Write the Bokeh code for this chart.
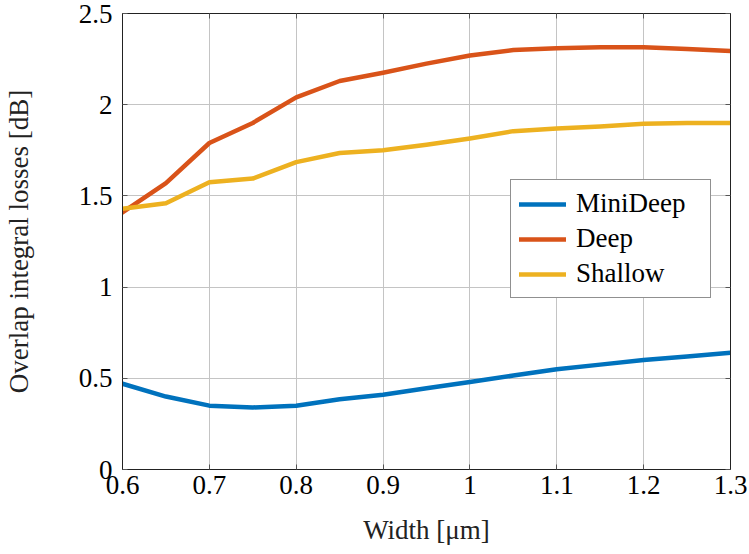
from bokeh.plotting import figure
from bokeh.models import Range1d, FixedTicker, LinearAxis
from bokeh.embed import file_html
from bokeh.resources import INLINE

width_um = [0.6, 0.65, 0.7, 0.75, 0.8, 0.85, 0.9, 0.95, 1.0, 1.05, 1.1, 1.15, 1.2, 1.25, 1.3]
minideep = [0.47, 0.40, 0.35, 0.34, 0.35, 0.385, 0.41, 0.445, 0.48, 0.515, 0.55, 0.575, 0.60, 0.62, 0.64]
deep = [1.41, 1.57, 1.79, 1.90, 2.04, 2.13, 2.175, 2.225, 2.27, 2.30, 2.31, 2.315, 2.315, 2.305, 2.295]
shallow = [1.43, 1.46, 1.575, 1.595, 1.685, 1.735, 1.75, 1.78, 1.815, 1.855, 1.87, 1.88, 1.895, 1.90, 1.90]

series_names = ["MiniDeep", "Deep", "Shallow"]
series_colors = ["#0072BD", "#D95319", "#EDB120"]

x_ticks = [0.6, 0.7, 0.8, 0.9, 1.0, 1.1, 1.2, 1.3]
x_tick_labels = ["0.6", "0.7", "0.8", "0.9", "1", "1.1", "1.2", "1.3"]
y_ticks = [0, 0.5, 1, 1.5, 2, 2.5]
y_tick_labels = ["0", "0.5", "1", "1.5", "2", "2.5"]

FONT = "'Liberation Serif', 'DejaVu Serif', serif"
FS = "27px"

p = figure(frame_width=608, frame_height=456, output_backend="svg", toolbar_location=None,
           x_range=Range1d(0.6, 1.3), y_range=Range1d(0, 2.5),
           min_border_left=121, min_border_right=20, min_border_top=13, min_border_bottom=85,
           x_axis_label="Width [μm]", y_axis_label="Overlap integral losses [dB]")
p.outline_line_color = "#222222"
p.outline_line_width = 1

for ax, ticks, labels in ((p.xaxis[0], x_ticks, x_tick_labels), (p.yaxis[0], y_ticks, y_tick_labels)):
    ax.ticker = FixedTicker(ticks=ticks)
    ax.major_label_overrides = {t: l for t, l in zip(ticks, labels)}
    ax.major_label_text_font = FONT
    ax.major_label_text_font_size = FS
    ax.major_label_text_color = "#000000"
    ax.axis_label_text_font = FONT
    ax.axis_label_text_font_size = FS
    ax.axis_label_text_font_style = "normal"
    ax.axis_label_text_color = "#222222"
    ax.major_tick_in = 5
    ax.major_tick_out = 0
    ax.minor_tick_line_color = None
    ax.axis_line_color = "#222222"
    ax.major_tick_line_color = "#555555"

p.xaxis[0].major_label_standoff = 6
p.xaxis[0].axis_label_standoff = 18
p.yaxis[0].major_label_standoff = 10
p.yaxis[0].axis_label_standoff = 42

for loc, ticks in (("above", x_ticks), ("right", y_ticks)):
    ax = LinearAxis(ticker=FixedTicker(ticks=ticks), major_label_text_font_size="0px",
                    major_tick_in=5, major_tick_out=0, minor_tick_line_color=None,
                    axis_line_color="#222222", major_tick_line_color="#555555",
                    major_label_standoff=0)
    p.add_layout(ax, loc)

p.xgrid.ticker = FixedTicker(ticks=x_ticks)
p.ygrid.ticker = FixedTicker(ticks=y_ticks)
p.grid.grid_line_color = "#c4c4c4"
p.grid.grid_line_width = 1

for name, vals, col in zip(series_names, [minideep, deep, shallow], series_colors):
    p.line(width_um, vals, line_color=col, line_width=4.5, legend_label=name,
           line_join="round", line_cap="round")

lg = p.legend[0]
lg.location = (388, 171)
lg.label_text_font = FONT
lg.label_text_font_size = FS
lg.label_text_color = "#000000"
lg.border_line_color = "#222222"
lg.border_line_width = 1
lg.background_fill_alpha = 1
lg.glyph_width = 47
lg.glyph_height = 30
lg.label_height = 30
lg.label_width = 126
lg.spacing = 4
lg.padding = 8
lg.margin = 0
lg.label_standoff = 10

open("out.html", "w").write(file_html(p, INLINE))
